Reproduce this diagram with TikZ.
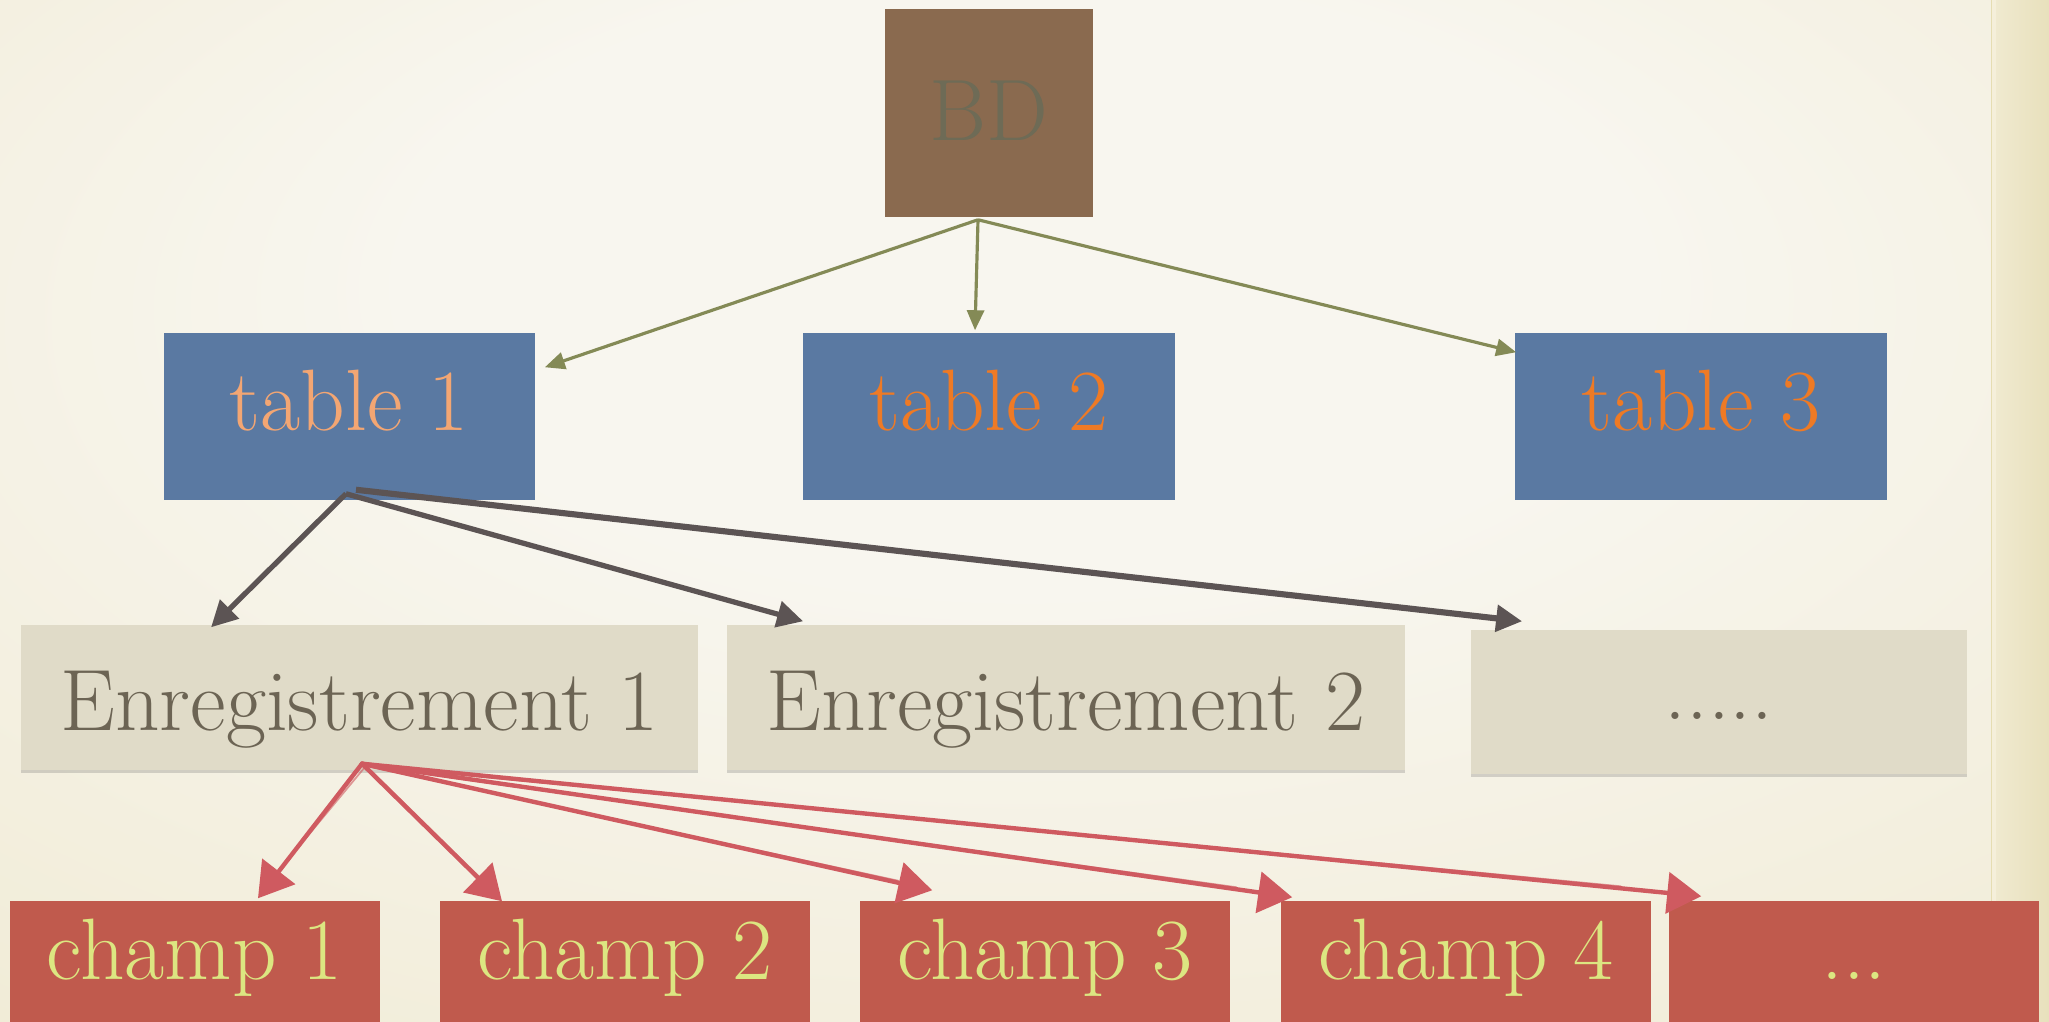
\documentclass[tikz,border=0pt]{standalone}
\usepackage{fontspec}
\usetikzlibrary{arrows.meta,shadows,calc}
\definecolor{bgin}{HTML}{F8F6EF}
\definecolor{bgmid}{HTML}{F1ECD7}
\definecolor{bgout}{HTML}{E6DDB2}
\definecolor{bdfill}{HTML}{8A6A4F}
\definecolor{bdtext}{HTML}{6E6B56}
\definecolor{tblfill}{HTML}{5A79A2}
\definecolor{tblone}{HTML}{F3A673}
\definecolor{tbltwo}{HTML}{EE7A25}
\definecolor{enrfill}{HTML}{E0DBC8}
\definecolor{enrtext}{HTML}{6C6454}
\definecolor{chfill}{HTML}{C05A4D}
\definecolor{chtext}{HTML}{DCE681}
\definecolor{greenarr}{HTML}{848A56}
\definecolor{darkarr}{HTML}{5C5454}
\definecolor{redarr}{HTML}{CF5A60}
\definecolor{stripl}{HTML}{F0EAD0}
\definecolor{stripr}{HTML}{E8E0BC}
\definecolor{stripline}{HTML}{F5EFDA}
\pgfdeclareradialshading{bgshade}{\pgfpoint{0bp}{14bp}}{color(0bp)=(bgin); color(15bp)=(bgin); color(40bp)=(bgmid); color(72bp)=(bgout)}
\newcommand{\bigtxt}{\fontsize{24.8pt}{29pt}\selectfont}
\begin{document}
\begin{tikzpicture}[x=0.01cm,y=-0.01cm,
  boxbase/.style={rectangle, inner sep=0pt, font=\bigtxt},
  bdbox/.style={boxbase, fill=bdfill, text=bdtext, minimum width=2.08cm, minimum height=2.08cm, text height=0.54cm, text depth=0cm},
  tblbox/.style={boxbase, fill=tblfill, minimum width=3.71cm, minimum height=1.67cm, text height=0.56cm, text depth=0.28cm},
  enrbox/.style={boxbase, fill=enrfill, text=enrtext, minimum height=1.45cm, text height=0.65cm, text depth=0cm,
     drop shadow={shadow xshift=0pt, shadow yshift=-0.8pt, opacity=0.25, fill=black!60}},
  chbox/.style={boxbase, fill=chfill, text=chtext, minimum width=3.70cm, minimum height=1.60cm, text height=0.30cm, text depth=0.34cm},
  garrow/.style={draw=greenarr, line width=0.9pt, -{Triangle[length=0.20cm, width=0.17cm]}},
  darrow/.style={draw=darkarr, line width=1.5pt, -{Triangle[length=0.26cm, width=0.26cm]}},
  rarrow/.style={draw=redarr, line width=1.25pt, line cap=round, -{Triangle[length=0.34cm, width=0.41cm]}},
  rsketch/.style={draw=redarr, line width=0.5pt, opacity=0.6, line cap=round},
]
\useasboundingbox (0,0) rectangle (2049,1021);
% background
\shade[shading=bgshade] (0,0) rectangle (2049,1021);
\shade[left color=stripl, right color=stripr] (1994,0) rectangle (2049,1021);
\fill[stripline] (1992,0) rectangle (1996,1021);
\draw[line width=0.3pt, color=bgout] (1991.5,0) -- (1991.5,1021);

% nodes
\node[bdbox] (bd) at (989,113) {BD};
\node[tblbox, text=tblone] (t1) at (349.5,416.5) {table 1};
\node[tblbox, text=tbltwo] (t2) at (989,416.5) {table 2};
\node[tblbox, text=tbltwo, minimum width=3.72cm] (t3) at (1701,416.5) {table 3};
\node[enrbox, minimum width=6.77cm] (e1) at (359.5,697.5) {Enregistrement 1};
\node[enrbox, minimum width=6.78cm] (e2) at (1066,697.5) {Enregistrement 2};
\node[enrbox, minimum width=4.96cm, minimum height=1.44cm, text height=0.34cm] (e3) at (1719,702) {.....};
\node[chbox] (c1) at (195,981) {champ 1};
\node[chbox] (c2) at (625,981) {champ 2};
\node[chbox] (c3) at (1045,981) {champ 3};
\node[chbox] (c4) at (1466,981) {champ 4};
\node[chbox] (c5) at (1854,981) {...};

% connector end points
\coordinate (bdo) at ($(bd.south)+(-11,2)$);
\coordinate (t1tip) at ($(t1.north east)+(9,35)$);
\coordinate (t2tip) at ($(t2.north)+(-14,-2)$);
\coordinate (t3tip) at ($(t3.north west)+(2,20)$);
\coordinate (t1oa) at ($(t1.south)+(-3.5,-7)$);
\coordinate (t1ob) at ($(t1.south)+(6.5,-11)$);
\coordinate (e1tip) at ($(e1.north west)+(191,3)$);
\coordinate (e2tip) at ($(e2.north west)+(77,-3)$);
\coordinate (e3tip) at ($(e3.north west)+(52,-8)$);
\coordinate (e1o) at ($(e1.south)+(2.5,-7)$);
\coordinate (c1tip) at ($(c1.north)+(63,-2)$);
\coordinate (c2tip) at ($(c2.north)+(-123,1)$);
\coordinate (c3tip) at ($(c3.north west)+(73,-10)$);
\coordinate (c4tip) at ($(c4.north west)+(12,-3)$);
\coordinate (c5tip) at ($(c5.north west)+(33,-4)$);

% BD -> tables
\draw[garrow] (bdo) -- (t1tip);
\draw[garrow] (bdo) -- (t2tip);
\draw[garrow] (bdo) -- (t3tip);

% table 1 -> records
\draw[darrow] (t1oa) -- (e1tip);
\draw[darrow] (t1oa) -- (e2tip);
\draw[darrow, line width=1.75pt] (t1ob) -- (e3tip);

% record 1 -> fields
\foreach \t in {c1tip,c2tip,c3tip,c4tip,c5tip}{
  \draw[rarrow] (e1o) -- (\t);
  \draw[rsketch] ($(e1o)+(4,2)$) -- ($(\t)!0.06!(e1o)+(0,-2)$);
}
\end{tikzpicture}
\end{document}
